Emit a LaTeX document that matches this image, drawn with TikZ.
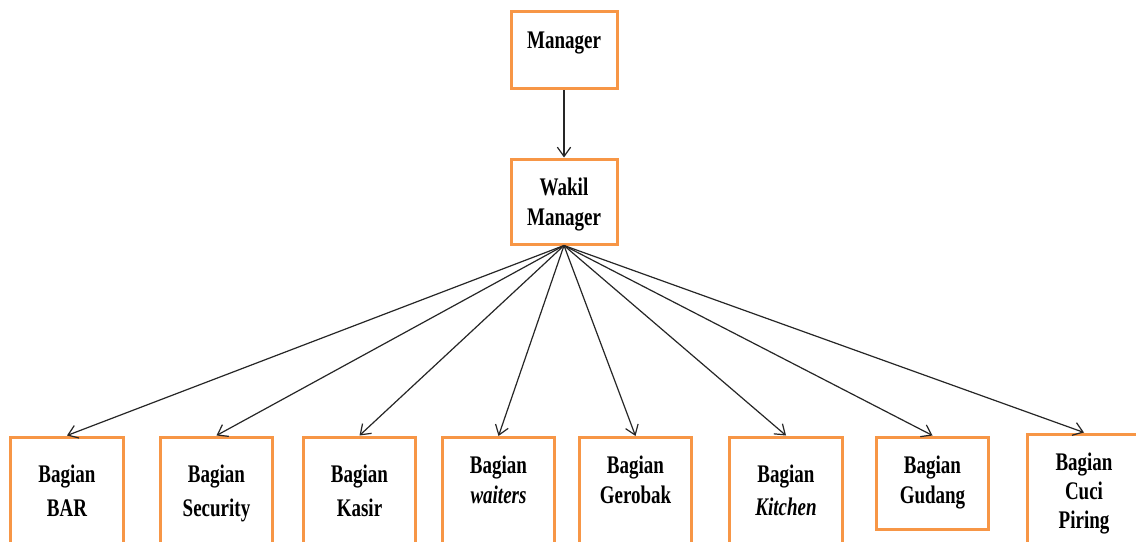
\documentclass[tikz,border=0pt]{standalone}
\usepackage{fontspec}
\setmainfont[FakeStretch=0.75]{Liberation Serif}
\usetikzlibrary{arrows.meta}
\definecolor{boxorange}{RGB}{247,150,70}
\begin{document}
\begin{tikzpicture}[x=0.75pt,y=-0.75pt,
  box/.style={draw=boxorange,line width=2.25pt,rectangle,inner sep=0pt,minimum width=84.5pt},
  lbl/.style={anchor=north,align=center,inner sep=0pt,font=\bfseries\fontsize{19}{#1}\selectfont},
  lbl/.default=23pt,
  conn/.style={draw=black!85,line width=0.9pt,-{Straight Barb[length=7pt,width=10pt]}}]
\useasboundingbox (0,0) rectangle (1136,542);
\clip (0,0) rectangle (1136,542);
\fill[white] (0,0) rectangle (1136,542);
% top boxes
\node[box,minimum width=79.5pt,minimum height=57.75pt] (m) at (564,50.5) {};
\node[box,minimum width=79.5pt,minimum height=63.75pt] (w) at (564,201.5) {};
\node[lbl] (tm) at (564,26.5) {\strut Manager};
\node[lbl] (tw) at (564,173.5) {\strut Wakil\\\strut Manager};
% bottom boxes
\node[box,minimum height=92.25pt] (b1) at (67,498.5) {};
\node[box,minimum height=92.25pt] (b2) at (216.5,498.5) {};
\node[box,minimum height=92.25pt] (b3) at (359.5,498.5) {};
\node[box,minimum height=92.25pt] (b4) at (498.5,499) {};
\node[box,minimum height=92.25pt] (b5) at (635.5,499) {};
\node[box,minimum height=92.25pt] (b6) at (786,498.5) {};
\node[box,minimum height=69pt] (b7) at (932.5,483) {};
\node[box,minimum height=94.5pt] (b8) at (1084,497) {};
% labels
\node[lbl=26pt] (t1) at (67,457.7) {\strut Bagian\\\strut BAR};
\node[lbl=26pt] (t2) at (216.5,457.7) {\strut Bagian\\\strut Security};
\node[lbl=26pt] (t3) at (359.5,457.7) {\strut Bagian\\\strut Kasir};
\node[lbl] (t4) at (498.5,451.5) {\strut Bagian\\\strut \textit{waiters}};
\node[lbl] (t5) at (635.5,451.5) {\strut Bagian\\\strut Gerobak};
\node[lbl=25pt] (t6) at (786,458.7) {\strut Bagian\\\strut \textit{Kitchen}};
\node[lbl] (t7) at (932.5,451.5) {\strut Bagian\\\strut Gudang};
\node[lbl=22pt] (t8) at (1084,449.5) {\strut Bagian\\\strut Cuci\\\strut Piring};
% connectors
\draw[conn] (m.south) -- (w.north);
\foreach \b in {b1,b2,b3,b4,b5,b6,b7,b8}
  \draw[conn] (w.south) -- (\b.north);
\end{tikzpicture}
\end{document}
